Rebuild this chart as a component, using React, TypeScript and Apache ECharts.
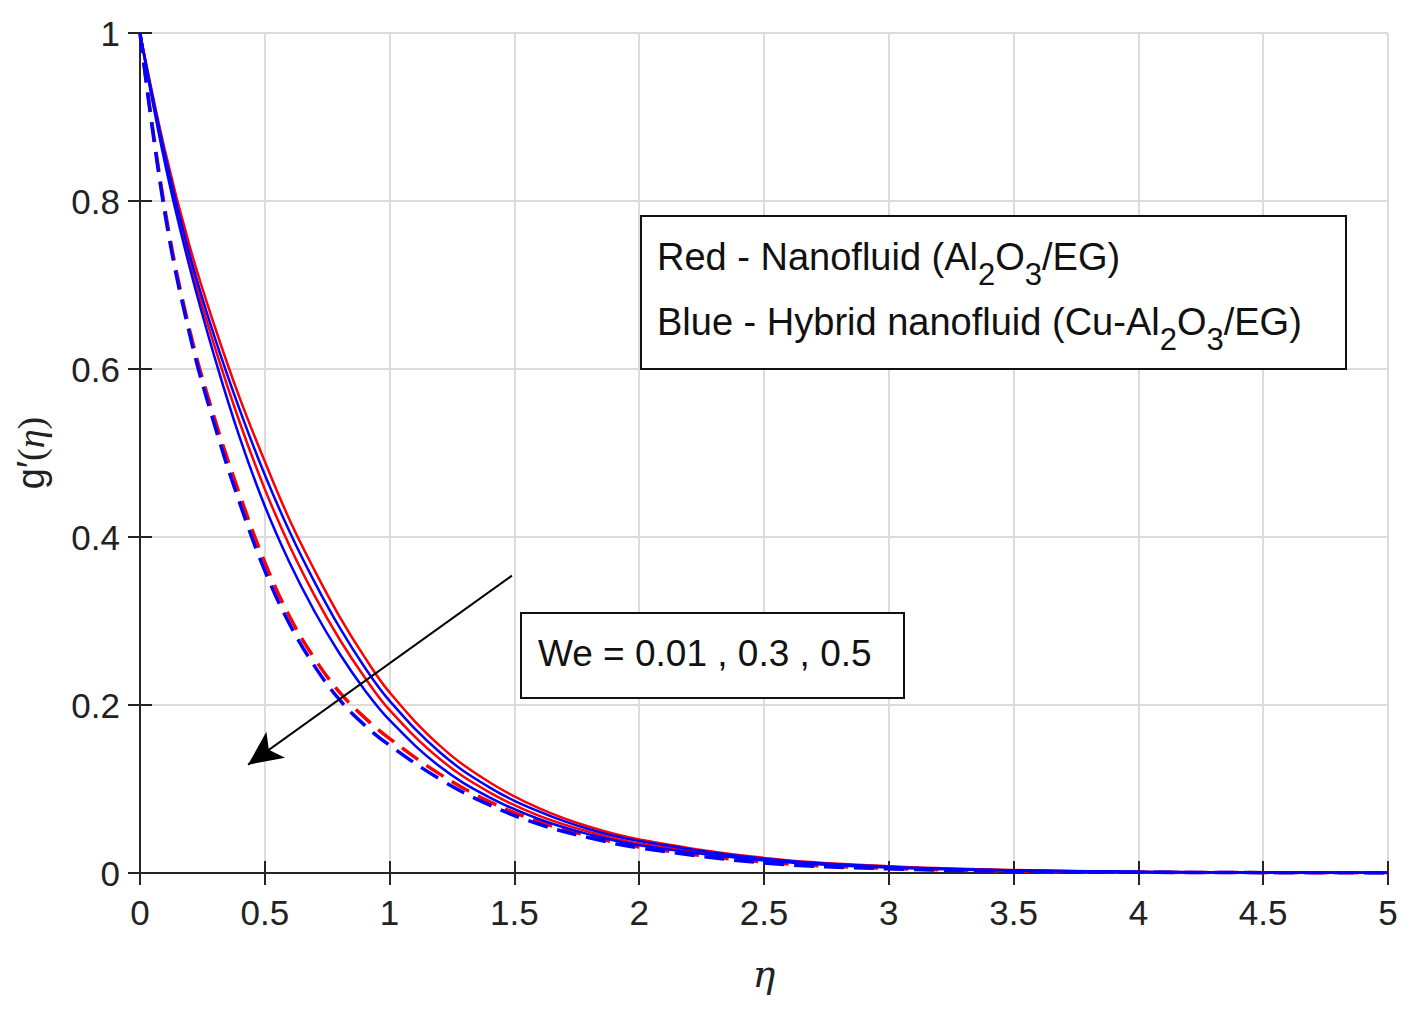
import React, { useEffect, useRef } from "react";
import * as echarts from "echarts";

const etaValues = [0, 0.1, 0.2, 0.3, 0.4, 0.5, 0.6, 0.7, 0.8, 0.9, 1.0, 1.2, 1.4, 1.6, 1.8, 2.0, 2.5, 3, 3.5, 4, 4.5, 5];

const redWe001 = [1, 0.86, 0.745, 0.65, 0.565, 0.49, 0.42, 0.36, 0.305, 0.257, 0.215, 0.152, 0.108, 0.077, 0.055, 0.040, 0.018, 0.008, 0.0035, 0.0015, 0.0007, 0.0003];
const blueWe001 = [1, 0.855, 0.735, 0.637, 0.551, 0.474, 0.406, 0.346, 0.292, 0.245, 0.205, 0.144, 0.102, 0.073, 0.052, 0.038, 0.017, 0.0075, 0.0033, 0.0014, 0.0006, 0.0003];
const redWe03 = [1, 0.85, 0.727, 0.626, 0.536, 0.457, 0.389, 0.33, 0.278, 0.233, 0.194, 0.136, 0.096, 0.068, 0.049, 0.035, 0.016, 0.007, 0.003, 0.0013, 0.0006, 0.0002];
const blueWe03 = [1, 0.845, 0.72, 0.613, 0.518, 0.437, 0.369, 0.311, 0.261, 0.218, 0.182, 0.127, 0.09, 0.064, 0.046, 0.033, 0.015, 0.0065, 0.0028, 0.0012, 0.0005, 0.0002];
const redWe05 = [1, 0.79, 0.645, 0.54, 0.45, 0.37, 0.305, 0.255, 0.215, 0.185, 0.16, 0.118, 0.085, 0.061, 0.044, 0.031, 0.013, 0.0055, 0.0023, 0.001, 0.0004, 0.0002];
const blueWe05 = [1, 0.785, 0.64, 0.532, 0.44, 0.36, 0.296, 0.246, 0.206, 0.176, 0.152, 0.112, 0.081, 0.058, 0.042, 0.030, 0.012, 0.005, 0.002, 0.0009, 0.0004, 0.0001];

const arrowStart = [1.49, 0.354];
const arrowEnd = [0.433, 0.129];

const FONT = "'Liberation Sans', Arial, sans-serif";
const SERIF = "'Liberation Serif', 'Times New Roman', serif";

function pairs(ys: number[]) {
  return etaValues.map((x, i) => [x, ys[i]]);
}

export default function App() {
  const ref = useRef<HTMLDivElement>(null);
  useEffect(() => {
    document.body.style.margin = "0";
    const chart = echarts.init(ref.current!, null, { renderer: "svg" });
    const axisLine = { show: true, lineStyle: { color: "#262626", width: 2 } };
    const tick = { show: true, inside: true, length: 12, lineStyle: { color: "#262626", width: 2 } };
    const mk = (name: string, ys: number[], color: string, dashed: boolean, extra: any = {}) => ({
      name,
      type: "line",
      data: pairs(ys),
      smooth: 0.4,
      showSymbol: false,
      symbol: "none",
      lineStyle: { color, width: dashed ? 3.5 : 2.5, type: dashed ? [20, 10] : "solid" },
      z: 3,
      ...extra,
    });
    const subRich = {
      n: { fontSize: 38, fontFamily: FONT, fill: "#111" },
      s: { fontSize: 31, fontFamily: FONT, fill: "#111", padding: [34, 0, 0, 0] },
    };
    chart.setOption({
      animation: false,
      backgroundColor: "#ffffff",
      grid: { left: 140, right: 29, top: 33, bottom: 136, containLabel: false, outerBoundsMode: "none" },
      xAxis: [
        {
          type: "value", min: 0, max: 5, interval: 0.5, position: "bottom",
          axisLine, axisTick: tick,
          axisLabel: { color: "#222", fontSize: 35, fontFamily: FONT, margin: 22 },
          splitLine: { show: true, lineStyle: { color: "#dcdcdc", width: 2 } },
          name: "η", nameLocation: "middle", nameGap: 82,
          nameTextStyle: { fontSize: 38, fontStyle: "italic", fontFamily: "'DejaVu Serif', serif", color: "#222" },
        },
        {
          type: "value", min: 0, max: 5, interval: 0.5, position: "top",
          axisLine, axisTick: tick,
          axisLabel: { show: false }, splitLine: { show: false },
        },
      ],
      yAxis: [
        {
          type: "value", min: 0, max: 1, interval: 0.2, position: "left",
          axisLine, axisTick: tick,
          axisLabel: { color: "#222", fontSize: 35, fontFamily: FONT, margin: 20 },
          splitLine: { show: true, lineStyle: { color: "#dcdcdc", width: 2 } },
          name: "{g|g′}{p|(}{e|η}{p|)}", nameLocation: "middle", nameGap: 90, nameRotate: 90,
          nameTextStyle: {
            color: "#222",
            rich: {
              g: { fontSize: 38, fontFamily: FONT, color: "#222" },
              p: { fontSize: 38, fontFamily: SERIF, color: "#222" },
              e: { fontSize: 38, fontFamily: SERIF, fontStyle: "italic", color: "#222" },
            },
          },
        },
        {
          type: "value", min: 0, max: 1, interval: 0.2, position: "right",
          axisLine, axisTick: tick,
          axisLabel: { show: false }, splitLine: { show: false },
        },
      ],
      series: [
        mk("Red We=0.01", redWe001, "#ff0000", false),
        mk("Red We=0.3", redWe03, "#ff0000", false),
        mk("Red We=0.5", redWe05, "#ff0000", true),
        mk("Blue We=0.01", blueWe001, "#0000ff", false),
        mk("Blue We=0.3", blueWe03, "#0000ff", false),
        mk("Blue We=0.5", blueWe05, "#0000ff", true, {
          markLine: {
            silent: true,
            symbol: ["none", "arrow"],
            symbolSize: [24, 34],
            label: { show: false },
            lineStyle: { color: "#000000", width: 2, type: "solid" },
            data: [[{ coord: arrowStart }, { coord: arrowEnd }]],
          },
        }),
      ],
      graphic: [
        {
          type: "rect", left: 640, top: 215, z: 10,
          shape: { width: 705, height: 153 },
          style: { fill: "#ffffff", stroke: "#111", lineWidth: 2 },
        },
        {
          type: "text", x: 657, y: 257, z: 11,
          style: { text: "{n|Red - Nanofluid (Al}{s|2}{n|O}{s|3}{n|/EG)}", verticalAlign: "middle", rich: subRich },
        },
        {
          type: "text", x: 657, y: 322, z: 11,
          style: { text: "{n|Blue - Hybrid nanofluid (Cu-Al}{s|2}{n|O}{s|3}{n|/EG)}", verticalAlign: "middle", rich: subRich },
        },
        {
          type: "rect", left: 520, top: 612, z: 10,
          shape: { width: 383, height: 85 },
          style: { fill: "#ffffff", stroke: "#111", lineWidth: 2 },
        },
        {
          type: "text", x: 538, y: 653, z: 11,
          style: { text: "We = 0.01 , 0.3 , 0.5", fontSize: 37, fontFamily: FONT, fill: "#111", verticalAlign: "middle" },
        },
      ],
    });
    return () => chart.dispose();
  }, []);
  return <div ref={ref} style={{ width: 1417, height: 1009 }} />;
}
